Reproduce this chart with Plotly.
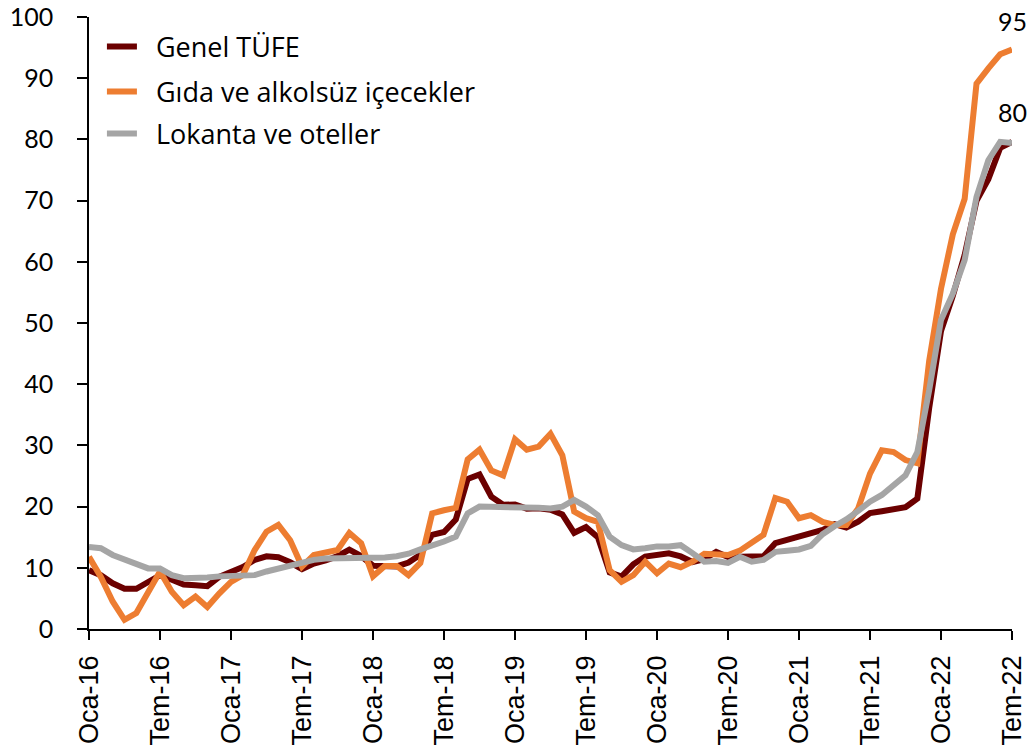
import plotly.graph_objects as go

months_tr = ["Oca", "Şub", "Mar", "Nis", "May", "Haz", "Tem", "Ağu", "Eyl", "Eki", "Kas", "Ara"]
years = ["16", "17", "18", "19", "20", "21", "22"]
categories = [f"{m}-{y}" for y in years for m in months_tr][:79]
tick_labels = categories[::6]

genel_tufe = [
    9.58, 8.78, 7.46, 6.57, 6.58, 7.64, 8.79, 8.05, 7.28, 7.16, 7.00, 8.53,
    9.22, 10.13, 11.29, 11.87, 11.72, 10.90, 9.79, 10.68, 11.20, 11.90, 12.98, 11.92,
    10.35, 10.26, 10.23, 10.85, 12.15, 15.39, 15.85, 17.90, 24.52, 25.24, 21.62, 20.30,
    20.35, 19.67, 19.71, 19.50, 18.71, 15.72, 16.65, 15.01, 9.26, 8.55, 10.56, 11.84,
    12.15, 12.37, 11.86, 10.94, 11.39, 12.62, 11.76, 11.77, 11.75, 11.89, 14.03, 14.60,
    14.97, 15.61, 16.19, 17.14, 16.59, 17.53, 18.95, 19.25, 19.58, 19.89, 21.31, 36.08,
    48.69, 54.44, 61.14, 69.97, 73.50, 78.62, 79.60,
]

gida = [
    11.8, 8.5, 4.5, 1.5, 2.6, 6.1, 9.4, 6.1, 3.9, 5.3, 3.6, 5.8,
    7.7, 8.8, 12.9, 15.9, 17.0, 14.5, 10.2, 12.1, 12.6, 12.9, 15.7, 14.0,
    8.6, 10.3, 10.3, 8.8, 10.8, 18.9, 19.4, 19.8, 27.7, 29.3, 25.9, 25.1,
    31.0, 29.3, 29.8, 31.9, 28.4, 19.2, 18.1, 17.5, 9.6, 7.7, 8.8, 11.0,
    9.1, 10.7, 10.1, 11.0, 12.3, 12.3, 12.1, 12.8, 14.1, 15.4, 21.4, 20.8,
    18.1, 18.6, 17.5, 17.0, 17.0, 19.7, 25.4, 29.2, 28.9, 27.6, 27.1, 43.8,
    55.6, 64.5, 70.3, 89.1, 91.6, 93.9, 94.7,
]

lokanta = [
    13.4, 13.2, 12.1, 11.3, 10.5, 9.9, 9.9, 8.8, 8.3, 8.3, 8.4, 8.6,
    8.6, 8.6, 8.8, 9.4, 9.9, 10.5, 11.0, 11.3, 11.5, 11.5, 11.5, 11.5,
    11.5, 11.7, 11.9, 12.3, 13.0, 13.6, 14.3, 15.1, 18.9, 20.0, 20.0, 19.8,
    20.0, 19.9, 19.8, 19.7, 20.0, 21.1, 20.0, 18.6, 15.1, 13.7, 13.0, 13.2,
    13.5, 13.5, 13.7, 12.4, 11.0, 11.1, 10.8, 11.8, 11.0, 11.3, 12.6, 12.8,
    13.0, 13.6, 15.5, 16.8, 17.9, 19.3, 20.8, 21.9, 23.5, 25.1, 28.9, 39.0,
    50.5, 54.8, 60.3, 70.6, 76.6, 79.6, 79.4,
]

series_names = ["Genel TÜFE", "Gıda ve alkolsüz içecekler", "Lokanta ve oteller"]
series_values = [genel_tufe, gida, lokanta]
colors = ["#6B0000", "#ED7D31", "#A5A5A5"]
legend_ids = ["legend", "legend2", "legend3"]

fig = go.Figure()
for name, vals, col, lg in zip(series_names, series_values, colors, legend_ids):
    fig.add_trace(go.Scatter(
        x=categories, y=vals, mode="lines", name="\u00a0\u00a0" + name,
        line=dict(color=col, width=6), legend=lg,
    ))

# end labels
label_font = dict(family="Lato, Open Sans, sans-serif", size=25, color="black")
fig.add_annotation(x=categories[-1], y=gida[-1], text=str(round(gida[-1])),
                   showarrow=False, yshift=28, font=label_font)
fig.add_annotation(x=categories[-1], y=genel_tufe[-1], text=str(round(genel_tufe[-1])),
                   showarrow=False, yshift=30, font=label_font)

legend_font = dict(family="Open Sans, Lato, sans-serif", size=27, color="black")
leg_common = dict(x=0.014, xanchor="left", yanchor="middle", bgcolor="rgba(0,0,0,0)",
                  font=legend_font, borderwidth=0)
fig.update_layout(
    width=1030, height=751,
    margin=dict(l=89, r=18, t=17, b=122, autoexpand=False),
    plot_bgcolor="white", paper_bgcolor="white",
    showlegend=True,
    legend=dict(y=(629 - 47) / 612, **leg_common),
    legend2=dict(y=(629 - 92) / 612, **leg_common),
    legend3=dict(y=(629 - 134) / 612, **leg_common),
    xaxis=dict(
        type="category", range=[0, len(categories) - 1], automargin=False,
        tickmode="array", tickvals=tick_labels, ticktext=tick_labels,
        tickangle=-90, ticks="outside", ticklen=9, tickwidth=1.5, tickcolor="black",
        ticklabelstandoff=5, ticklabeloverflow="allow",
        showline=True, linecolor="black", linewidth=1.5, showgrid=False,
        tickfont=dict(family="Liberation Sans, Arial, sans-serif", size=27, color="black"),
    ),
    yaxis=dict(
        range=[0, 100], dtick=10, ticks="outside", ticklen=10, tickwidth=1.5,
        tickcolor="black", showline=True, linecolor="black", linewidth=1.5,
        showgrid=False, zeroline=False, automargin=False, ticklabelstandoff=19,
        ticklabeloverflow="allow",
        tickfont=dict(family="Lato, Open Sans, sans-serif", size=25, color="black"),
    ),
)

fig.write_html(
    "out.html",
    config={"displayModeBar": False},
    post_script="document.body.style.margin='0';document.body.style.overflow='hidden';",
)
